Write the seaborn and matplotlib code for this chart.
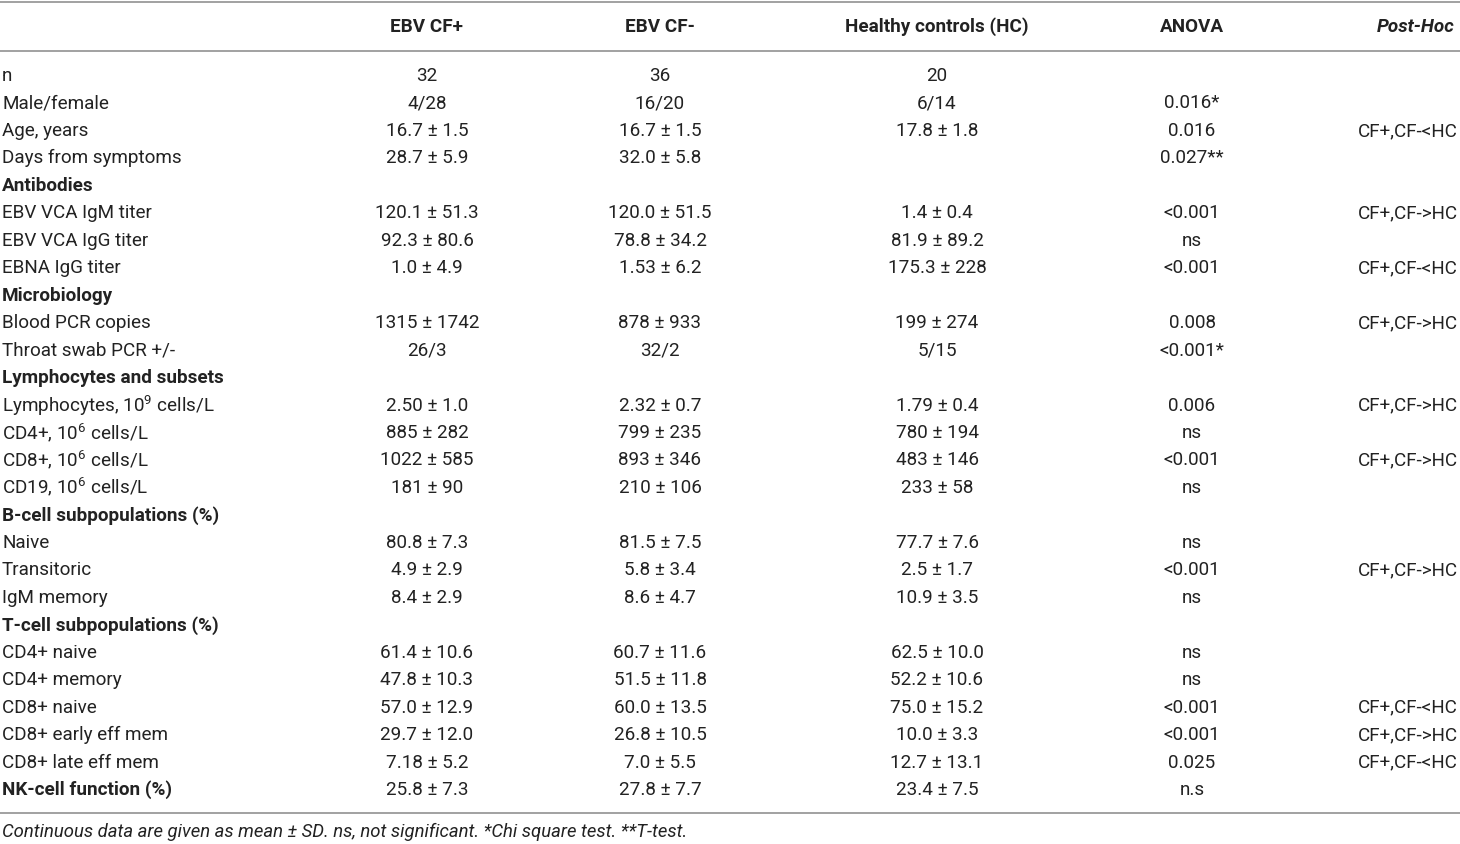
import pandas as pd
import matplotlib.pyplot as plt
import seaborn as sns

# table content
columns = ['EBV CF+', 'EBV CF-', 'Healthy controls (HC)', 'ANOVA', 'Post-Hoc']

row_labels = [
    'n', 'Male/female', 'Age, years', 'Days from symptoms',
    'Antibodies',
    'EBV VCA IgM titer', 'EBV VCA IgG titer', 'EBNA IgG titer',
    'Microbiology',
    'Blood PCR copies', 'Throat swab PCR +/-',
    'Lymphocytes and subsets',
    'Lymphocytes, 10$^{9}$ cells/L', 'CD4+, 10$^{6}$ cells/L',
    'CD8+, 10$^{6}$ cells/L', 'CD19, 10$^{6}$ cells/L',
    'B-cell subpopulations (%)',
    'Naive', 'Transitoric', 'IgM memory',
    'T-cell subpopulations (%)',
    'CD4+ naive', 'CD4+ memory', 'CD8+ naive', 'CD8+ early eff mem',
    'CD8+ late eff mem', 'NK-cell function (%)',
]
bold_rows = ['Antibodies', 'Microbiology', 'Lymphocytes and subsets',
             'B-cell subpopulations (%)', 'T-cell subpopulations (%)',
             'NK-cell function (%)']

cf_pos = ['32', '4/28', '16.7 ± 1.5', '28.7 ± 5.9', '',
          '120.1 ± 51.3', '92.3 ± 80.6', '1.0 ± 4.9', '',
          '1315 ± 1742', '26/3', '',
          '2.50 ± 1.0', '885 ± 282', '1022 ± 585', '181 ± 90', '',
          '80.8 ± 7.3', '4.9 ± 2.9', '8.4 ± 2.9', '',
          '61.4 ± 10.6', '47.8 ± 10.3', '57.0 ± 12.9', '29.7 ± 12.0',
          '7.18 ± 5.2', '25.8 ± 7.3']
cf_neg = ['36', '16/20', '16.7 ± 1.5', '32.0 ± 5.8', '',
          '120.0 ± 51.5', '78.8 ± 34.2', '1.53 ± 6.2', '',
          '878 ± 933', '32/2', '',
          '2.32 ± 0.7', '799 ± 235', '893 ± 346', '210 ± 106', '',
          '81.5 ± 7.5', '5.8 ± 3.4', '8.6 ± 4.7', '',
          '60.7 ± 11.6', '51.5 ± 11.8', '60.0 ± 13.5', '26.8 ± 10.5',
          '7.0 ± 5.5', '27.8 ± 7.7']
hc = ['20', '6/14', '17.8 ± 1.8', '', '',
      '1.4 ± 0.4', '81.9 ± 89.2', '175.3 ± 228', '',
      '199 ± 274', '5/15', '',
      '1.79 ± 0.4', '780 ± 194', '483 ± 146', '233 ± 58', '',
      '77.7 ± 7.6', '2.5 ± 1.7', '10.9 ± 3.5', '',
      '62.5 ± 10.0', '52.2 ± 10.6', '75.0 ± 15.2', '10.0 ± 3.3',
      '12.7 ± 13.1', '23.4 ± 7.5']
anova = ['', '0.016*', '0.016', '0.027**', '',
         '<0.001', 'ns', '<0.001', '',
         '0.008', '<0.001*', '',
         '0.006', 'ns', '<0.001', 'ns', '',
         'ns', '<0.001', 'ns', '',
         'ns', 'ns', '<0.001', '<0.001', '0.025', 'n.s']
post_hoc = ['', '', 'CF+,CF-<HC', '', '',
            'CF+,CF->HC', '', 'CF+,CF-<HC', '',
            'CF+,CF->HC', '', '',
            'CF+,CF->HC', '', 'CF+,CF->HC', '', '',
            '', 'CF+,CF->HC', '', '',
            '', '', 'CF+,CF-<HC', 'CF+,CF->HC', 'CF+,CF-<HC', '']

footnote = ('Continuous data are given as mean ± SD. ns, not significant. '
            '*Chi square test. **T-test.')

df = pd.DataFrame({'label': row_labels, columns[0]: cf_pos, columns[1]: cf_neg,
                   columns[2]: hc, columns[3]: anova, columns[4]: post_hoc})

sns.set_theme(style='white')
plt.rcParams['font.family'] = ['Roboto', 'DejaVu Sans']
plt.rcParams['mathtext.fontset'] = 'custom'
plt.rcParams['mathtext.rm'] = 'Roboto'

fig = plt.figure(figsize=(14.6, 8.44), dpi=100)
ax = fig.add_axes([0, 0, 1, 1])
ax.set_xlim(0, 1460)
ax.set_ylim(844, 0)
ax.axis('off')

fs = 13.6
txt_color = '#222222'
col_x = [427, 660, 937, 1192]
hdr_y = 27
row0, step = 76, 27.46

# header
for x, name in zip(col_x, columns[:4]):
    ax.text(x, hdr_y, name, ha='center', va='center', fontsize=fs,
            fontweight='bold', color=txt_color)
ax.text(1416, hdr_y, columns[4], ha='center', va='center', fontsize=fs,
        fontweight='bold', fontstyle='italic', color=txt_color)

# rules
for y in [1.5, 50.5, 812.5]:
    ax.axhline(y, color='#9a9a9a', lw=1.3)

# body
for i, r in df.iterrows():
    y = row0 + i * step
    ax.text(2, y, r['label'], ha='left', va='center', fontsize=fs,
            fontweight='bold' if r['label'] in bold_rows else 'normal',
            color=txt_color)
    for x, c in zip(col_x, columns[:4]):
        ax.text(x, y, r[c], ha='center', va='center', fontsize=fs,
                color=txt_color)
    ax.text(1458, y, r[columns[4]], ha='right', va='center', fontsize=fs,
            color=txt_color)

ax.text(2, 832, footnote, ha='left', va='center', fontsize=13.3,
        fontstyle='italic', color=txt_color)

fig.savefig('out.png', dpi=100)
